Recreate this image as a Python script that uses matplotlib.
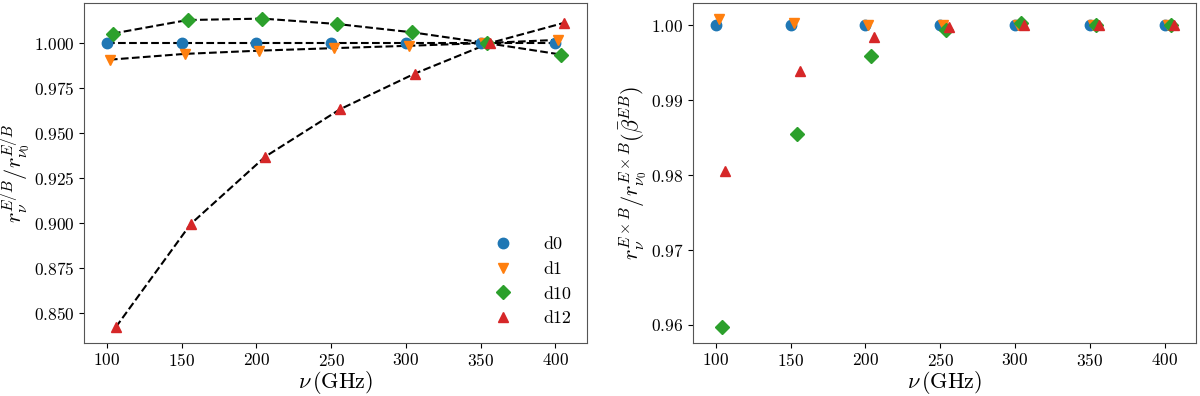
import numpy as np
import matplotlib
matplotlib.use("Agg")
import matplotlib.pyplot as plt

plt.rcParams["font.family"] = "serif"
plt.rcParams["font.serif"] = ["cmr10"]
plt.rcParams["mathtext.fontset"] = "cm"
plt.rcParams["axes.formatter.use_mathtext"] = True

# frequencies (GHz) and the small horizontal shift used per model
freqs = np.array([100, 150, 200, 250, 300, 350, 400])
models = ["d0", "d1", "d10", "d12"]
shifts = [0, 2, 4, 6]
markers = ["o", "v", "D", "^"]
colors = ["tab:blue", "tab:orange", "tab:green", "tab:red"]

# left panel: r^{E/B}_nu / r^{E/B}_nu0
ratio_eb = {
    "d0": [1.000, 1.000, 1.000, 1.000, 1.000, 1.000, 1.000],
    "d1": [0.9908, 0.9940, 0.9958, 0.9972, 0.9985, 1.000, 1.0018],
    "d10": [1.0053, 1.0128, 1.0136, 1.0106, 1.0060, 1.000, 0.9936],
    "d12": [0.8423, 0.8995, 0.9370, 0.9633, 0.9831, 1.000, 1.0113],
}

# right panel: r^{ExB}_nu / r^{ExB}_nu0 (beta_bar^{EB})
ratio_exb = {
    "d0": [1.000, 1.000, 1.000, 1.000, 1.000, 1.000, 1.000],
    "d1": [1.0009, 1.0003, 1.0001, 1.000, 1.000, 1.000, 1.000],
    "d10": [0.9597, 0.9855, 0.9959, 0.9994, 1.0003, 1.000, 1.000],
    "d12": [0.9805, 0.9939, 0.9985, 0.9998, 1.000, 1.000, 1.000],
}

fig, (ax1, ax2) = plt.subplots(1, 2, figsize=(12, 3.96), dpi=100)
fig.subplots_adjust(left=0.07, right=0.997, top=0.992, bottom=0.135, wspace=0.21)

for name, dx, mk, c in zip(models, shifts, markers, colors):
    x = freqs + dx
    ax1.plot(x, ratio_eb[name], "k--", lw=1.5, zorder=1)
    ax1.plot(x, ratio_eb[name], ls="none", marker=mk, color=c, ms=7.5,
             label=name, zorder=2)
    ax2.plot(x, ratio_exb[name], ls="none", marker=mk, color=c, ms=7.5, zorder=2)

ax1.set_xlabel(r"$\nu\,(\mathrm{GHz})$", fontsize=16, labelpad=0)
ax2.set_xlabel(r"$\nu\,(\mathrm{GHz})$", fontsize=16, labelpad=0)
ax1.set_ylabel(r"$r_\nu^{E/B}/r_{\nu_0}^{E/B}$", fontsize=16, labelpad=1)
ax2.set_ylabel(r"$r_\nu^{E\times B}/r_{\nu_0}^{E\times B}(\bar{\beta}^{EB})$",
               fontsize=16, labelpad=1)

for ax in (ax1, ax2):
    ax.set_xticks(freqs)
    ax.tick_params(labelsize=12.5)
    for sp in ax.spines.values():
        sp.set_color("#555555")

ax1.legend(loc="lower right", frameon=False, fontsize=13, handletextpad=1.2)

fig.savefig("out.png", dpi=100)
